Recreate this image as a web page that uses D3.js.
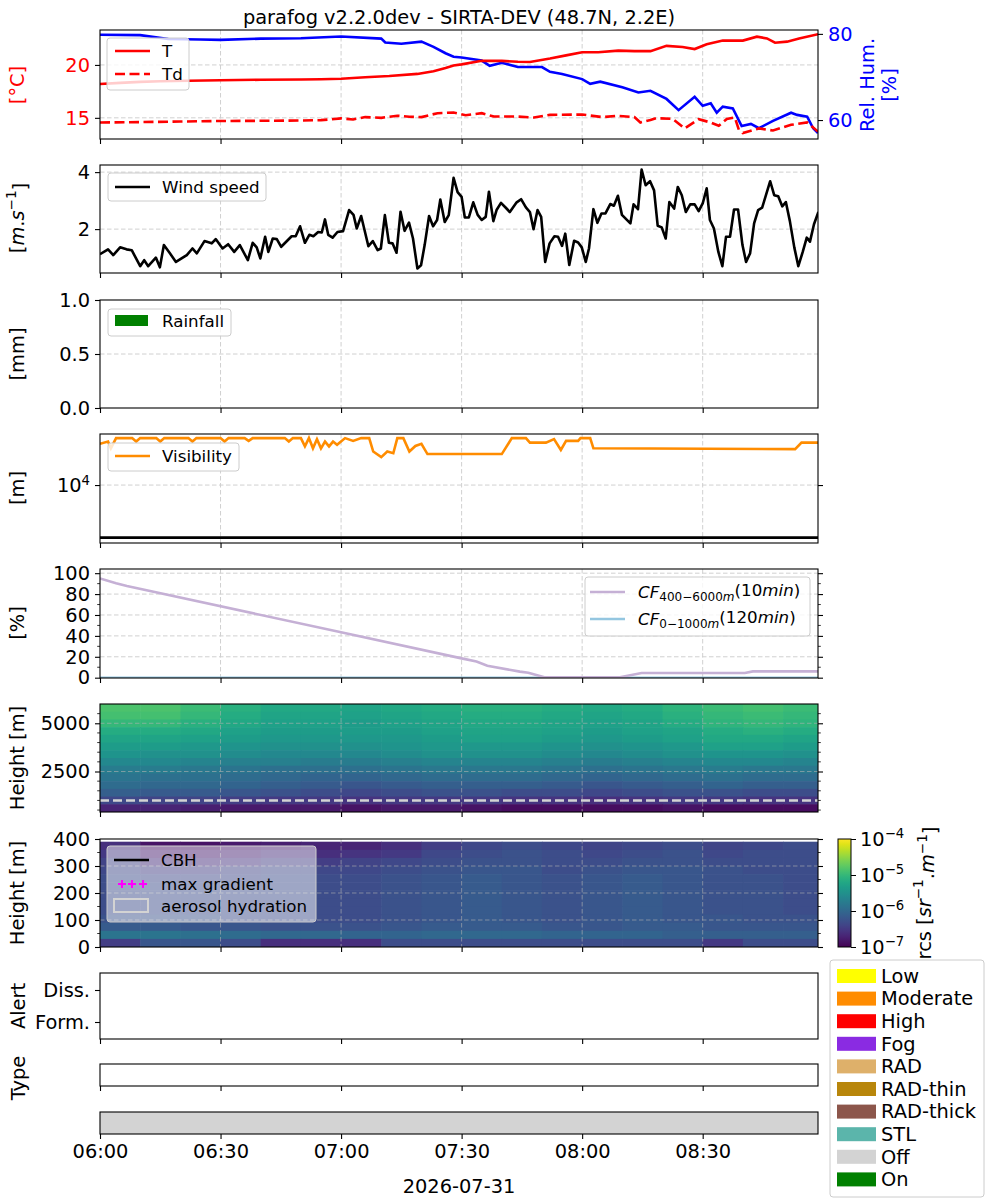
<!DOCTYPE html>
<html>
<head>
<meta charset="utf-8">
<script src="https://cdn.jsdelivr.net/npm/d3@7"></script>
<style>
  body { margin: 0; background: #fff; }
  text { font-family: "DejaVu Sans", sans-serif; }
</style>
</head>
<body>
<svg id="chart" width="1000" height="1200"></svg>
<script>
// ---- data (minutes after 06:00 UTC, value) ----
const tempT = [[0,18.2],[5,18.3],[10,18.4],[15,18.45],[22,18.5],[30,18.55],[40,18.6],[50,18.62],[55,18.65],[60,18.7],
  [66,18.84],[72,18.95],[79,19.15],[83,19.4],[86,19.7],[88,19.95],[90,20.05],[95,20.4],[100,20.38],[104,20.3],
  [107,20.28],[112,20.6],[116,20.9],[120,21.2],[124,21.2],[129,21.35],[133,21.3],[137,21.3],[141,21.8],[145,21.7],
  [148,21.5],[151,21.95],[155,22.3],[160,22.3],[163.5,22.67],[166,22.5],[168,22.1],[171,22.2],[174,22.5],[178.7,22.9]];
const tempTd = [[0,14.56],[10,14.6],[20,14.65],[30,14.7],[40,14.72],[50,14.75],[55,14.78],[60,14.95],[63,14.85],[66,15.07],
  [70,15.0],[74,15.2],[77,15.1],[80,15.07],[84,15.44],[88,15.5],[91,15.25],[95,15.44],[98,15.12],[104,15.12],
  [108,15.03],[112,15.28],[120,15.31],[125,15.07],[129,15.19],[133,15.07],[134.5,14.56],[137,14.8],[138.5,14.97],[142.5,14.9],
  [145.5,14.0],[149,14.87],[152,14.56],[154,14.25],[156,14.9],[158,15.03],[159,13.87],[160,13.56],[164,14.0],[167.5,13.8],
  [172,14.34],[176,14.56],[178.7,13.7]];
const relHum = [[0,79.8],[10,79.7],[17,78.8],[25,78.7],[30,78.6],[40,78.9],[50,79.0],[60,79.4],[70,78.9],[71,78.0],
  [75,77.7],[80,78.2],[83,77.0],[86,75.5],[88,74.7],[90,74.5],[95,73.8],[97,72.6],[100,73.3],[104,72.3],
  [110,72.3],[112,71.2],[115,70.7],[120,69.5],[122,68.4],[124.5,68.9],[130,67.6],[134,66.4],[137,66.8],[141,64.9],
  [144,62.3],[148,65.4],[150,63.3],[152,63.9],[153.5,61.7],[155,63.1],[157.5,62.7],[159.7,58.6],[162,59.1],[164,58.1],
  [167.5,59.8],[172,61.7],[173.5,61.2],[176,60.8],[177.5,58.1],[178.7,57.0]];

const windSpeed = [[0,1.12],[2,1.29],[3.3,1.09],[5,1.36],[6.6,1.29],[7.9,1.26],[10,0.70],[11,0.91],[12,0.70],[13.9,1.0],
  [14.9,0.66],[15.9,1.44],[17.4,1.15],[18.9,0.85],[21.6,1.09],[23,1.32],[24.1,1.15],[26,1.58],[27.8,1.5],[28.8,1.65],
  [30.5,1.32],[31.9,1.47],[33.4,1.2],[34.8,1.44],[36.8,0.91],[38,1.52],[39,1.36],[39.9,0.97],[41.1,1.73],[41.9,1.2],
  [43,1.67],[44,1.65],[45.1,1.38],[47.7,1.75],[48.7,1.75],[49.8,2.1],[51,1.52],[52.1,1.8],[53.1,1.75],[54.3,1.9],
  [55.2,1.88],[56,2.34],[56.8,1.8],[57.9,1.7],[59.1,1.9],[60.5,1.93],[62,2.67],[63.1,2.5],[63.9,2.02],[65,2.46],
  [66.8,1.4],[67.9,1.58],[69.1,1.26],[69.9,1.32],[70.9,2.49],[71.9,1.52],[72.8,1.5],[73.8,1.17],[74.8,2.61],[75.8,1.94],
  [76.9,2.23],[77.9,1.67],[79,0.62],[79.9,0.73],[80.8,1.44],[81.9,2.46],[82.9,2.1],[83.9,2.32],[84.7,3.04],[85.8,2.25],
  [86.8,2.49],[88,3.8],[89,3.3],[90,3.13],[90.8,2.41],[91.8,2.41],[92.9,2.94],[94,2.5],[95,2.32],[96,2.43],
  [96.8,3.31],[97.9,2.28],[98.7,2.67],[99.8,2.92],[101,2.75],[102,2.6],[103.7,2.94],[104.8,3.05],[106,2.76],[107,2.6],
  [107.9,2.0],[108.9,2.67],[109.8,2.43],[110.8,0.85],[111.9,1.5],[113.1,1.75],[114,1.73],[115,1.41],[115.8,1.84],[116.8,0.74],
  [118,1.59],[119,1.53],[119.9,1.36],[120.9,0.85],[121.7,1.32],[122.8,2.7],[123.8,2.22],[124.8,2.55],[125.8,2.55],[127,2.88],
  [127.9,2.82],[128.9,3.17],[129.9,2.5],[132,2.2],[132.8,2.87],[133.9,2.7],[134.8,4.09],[135.8,3.54],[136.9,3.68],[137.9,3.36],
  [138.8,2.12],[139.8,2.06],[140.8,1.67],[141.7,2.95],[142.9,2.72],[143.8,3.48],[144.8,3.19],[145.8,2.6],[146.9,2.87],[148,2.87],
  [149,2.63],[150,2.9],[151,3.43],[151.8,2.32],[152.8,2.02],[153.9,1.2],[154.9,0.7],[155.8,1.73],[156.8,1.73],[157.8,2.69],
  [158.8,2.69],[159.9,1.44],[160.8,0.85],[161.8,1.15],[162.8,2.2],[163.8,2.67],[164.8,2.75],[166.8,3.68],[167.8,3.19],[168.8,3.15],
  [169.8,2.8],[170.7,2.95],[171.7,2.28],[172.8,1.36],[173.8,0.7],[174.9,1.2],[175.9,1.7],[176.7,1.56],[177.7,2.17],[178.8,2.6]];

const rainfall = [[0,0],[10,0],[20,0],[30,0],[40,0],[50,0],[60,0],[70,0],[80,0],[90,0],
  [100,0],[110,0],[120,0],[130,0],[140,0],[150,0],[160,0],[170,0]];

const visibility = [[0,18400],[2,19000],[2.7,17200],[4,20000],[8,20000],[9,19000],[10,20000],[14,20000],[15,19000],[16,20000],
  [22,20000],[23,19000],[24,20000],[30,20000],[31,19000],[32,20000],[36,20000],[37,19200],[38,20000],[46,20000],
  [47,19000],[48,20000],[50,20000],[51,17700],[52,20000],[53,17200],[54,19700],[55,17200],[56,19000],[57,17700],
  [58,19000],[59,18100],[61,20000],[63,19200],[65,20000],[67,20000],[68,16400],[70,15100],[71.5,16400],[73,16000],
  [74,20000],[75.5,20000],[77,16400],[78.5,17800],[80,18400],[81.5,15800],[100,15800],[102.5,20000],[106,20000],[107,18700],
  [111,18700],[113,19700],[114.7,16800],[116,19200],[119,19200],[119.6,20000],[122,20000],[122.8,17200],[173,17000],[174.6,18700],
  [178.7,18700]];
const visThreshold = 4600;

const cfHigh = [[0,95],[4,90.4],[6.7,87.8],[60,43.4],[89.7,18.7],[93.7,15.4],[96.4,11.5],[104.5,5.8],[106.6,4.8],[110.6,0.4],
  [129.4,0.4],[134.8,4.5],[160.5,4.5],[162.5,6],[178.7,6]];
const cfLow = [[0,0],[178.7,0]];

// range corrected signal, log10 values, 10-minute columns
const rcsColMinutes = [0,10,20,30,40,50,60,70,80,90,100,110,120,130,140,150,160,170];
const rcsHighTops = [6000,5600,5200,4800,4400,4000,3600,3200,2800,2400,2000,1600,1200,800];
const rcsHigh = [
  [-4.85,-4.85,-4.95,-5.1,-5.2,-5.2,-5.25,-5.2,-5.15,-5.1,-5.1,-5.15,-5.2,-5.15,-5.05,-4.95,-4.9,-4.95],
  [-4.9,-4.9,-5.0,-5.15,-5.25,-5.25,-5.3,-5.25,-5.2,-5.15,-5.15,-5.2,-5.25,-5.2,-5.1,-5.0,-4.95,-5.0],
  [-5.0,-5.0,-5.1,-5.2,-5.3,-5.3,-5.35,-5.3,-5.25,-5.2,-5.2,-5.25,-5.3,-5.25,-5.15,-5.05,-5.0,-5.05],
  [-5.15,-5.15,-5.2,-5.3,-5.35,-5.35,-5.35,-5.35,-5.3,-5.25,-5.25,-5.3,-5.35,-5.3,-5.25,-5.15,-5.1,-5.15],
  [-5.25,-5.25,-5.3,-5.35,-5.4,-5.4,-5.4,-5.4,-5.35,-5.3,-5.3,-5.35,-5.4,-5.35,-5.3,-5.2,-5.2,-5.25],
  [-5.35,-5.35,-5.4,-5.45,-5.5,-5.5,-5.5,-5.45,-5.4,-5.4,-5.4,-5.45,-5.5,-5.45,-5.4,-5.3,-5.3,-5.35],
  [-5.45,-5.5,-5.5,-5.55,-5.6,-5.6,-5.6,-5.55,-5.5,-5.5,-5.5,-5.55,-5.6,-5.55,-5.5,-5.45,-5.45,-5.5],
  [-5.6,-5.6,-5.65,-5.7,-5.7,-5.75,-5.75,-5.7,-5.65,-5.65,-5.65,-5.7,-5.75,-5.7,-5.65,-5.6,-5.6,-5.65],
  [-5.75,-5.75,-5.8,-5.85,-5.9,-5.9,-5.9,-5.85,-5.8,-5.8,-5.8,-5.85,-5.9,-5.85,-5.8,-5.75,-5.8,-5.8],
  [-5.85,-5.9,-5.9,-5.95,-6.0,-6.05,-6.05,-6.0,-5.95,-5.95,-5.95,-6.0,-6.05,-6.0,-5.95,-5.9,-5.95,-5.95],
  [-5.95,-6.0,-6.0,-6.05,-6.1,-6.15,-6.2,-6.15,-6.1,-6.1,-6.1,-6.15,-6.2,-6.15,-6.1,-6.05,-6.1,-6.1],
  [-6.1,-6.15,-6.15,-6.2,-6.25,-6.3,-6.35,-6.3,-6.25,-6.25,-6.3,-6.3,-6.35,-6.3,-6.25,-6.25,-6.3,-6.3],
  [-6.35,-6.4,-6.4,-6.45,-6.5,-6.5,-6.55,-6.5,-6.5,-6.5,-6.55,-6.55,-6.6,-6.55,-6.5,-6.5,-6.55,-6.55],
  [-6.7,-6.7,-6.75,-6.8,-6.8,-6.8,-6.85,-6.8,-6.8,-6.85,-6.9,-6.9,-6.9,-6.9,-6.85,-6.9,-6.9,-6.9]];
const rcsLowTops = [390,360,330,300,270,240,210,180,150,120,90,60,30];
const rcsLow = [
  [-6.6,-6.85,-6.85,-6.8,-6.75,-6.7,-6.7,-6.6,-6.45,-6.35,-6.3,-6.35,-6.4,-6.35,-6.3,-6.4,-6.35,-6.3],
  [-6.5,-6.75,-6.75,-6.7,-6.6,-6.6,-6.55,-6.5,-6.35,-6.3,-6.25,-6.3,-6.35,-6.3,-6.25,-6.35,-6.3,-6.3],
  [-6.4,-6.6,-6.6,-6.55,-6.45,-6.45,-6.4,-6.35,-6.3,-6.25,-6.25,-6.3,-6.3,-6.25,-6.25,-6.3,-6.3,-6.3],
  [-6.35,-6.45,-6.45,-6.4,-6.35,-6.35,-6.35,-6.3,-6.25,-6.2,-6.2,-6.3,-6.25,-6.2,-6.2,-6.25,-6.3,-6.3],
  [-6.3,-6.35,-6.35,-6.35,-6.3,-6.3,-6.3,-6.25,-6.2,-6.15,-6.2,-6.25,-6.2,-6.15,-6.2,-6.25,-6.25,-6.3],
  [-6.3,-6.3,-6.3,-6.3,-6.3,-6.3,-6.3,-6.25,-6.2,-6.15,-6.2,-6.25,-6.2,-6.15,-6.2,-6.25,-6.25,-6.3],
  [-6.3,-6.3,-6.3,-6.3,-6.3,-6.3,-6.3,-6.25,-6.2,-6.15,-6.2,-6.25,-6.2,-6.15,-6.2,-6.25,-6.25,-6.3],
  [-6.3,-6.3,-6.3,-6.3,-6.3,-6.3,-6.3,-6.25,-6.2,-6.15,-6.2,-6.25,-6.2,-6.15,-6.2,-6.25,-6.25,-6.3],
  [-6.3,-6.3,-6.3,-6.3,-6.3,-6.3,-6.3,-6.25,-6.2,-6.15,-6.2,-6.25,-6.2,-6.15,-6.2,-6.25,-6.25,-6.3],
  [-6.25,-6.25,-6.25,-6.3,-6.3,-6.3,-6.3,-6.25,-6.2,-6.15,-6.2,-6.25,-6.2,-6.15,-6.2,-6.2,-6.25,-6.25],
  [-6.15,-6.15,-6.2,-6.2,-6.25,-6.25,-6.25,-6.2,-6.15,-6.15,-6.15,-6.2,-6.2,-6.15,-6.15,-6.2,-6.2,-6.2],
  [-5.85,-5.85,-5.9,-5.95,-6.0,-6.0,-6.05,-6.05,-6.0,-6.0,-6.0,-6.05,-6.05,-6.05,-6.1,-6.1,-6.1,-6.1],
  [-6.45,-6.2,-6.2,-6.3,-6.6,-6.6,-6.6,-6.3,-6.3,-6.3,-6.3,-6.3,-6.3,-6.3,-6.3,-6.5,-6.3,-6.3]];
const fogLayerTop = 1000;

const fogState = [{start: 0, end: 178.7, state: 'Off'}];
const typeNames = ['Low','Moderate','High','Fog','RAD','RAD-thin','RAD-thick','STL','Off','On'];
const typeColors = ['#ffff00','#ff8c00','#ff0000','#8a2be2','#deb06a','#b8860b','#8c564b','#5bb5ab','#d3d3d3','#008000'];

// ---- layout ----
const FONT = '"DejaVu Sans", sans-serif';
const FS = 19.4, LFS = 16.7;
const L = 100, R = 818;
const t0 = Date.UTC(2026, 6, 31, 6, 0);
const at = m => new Date(t0 + m * 60000);

const svg = d3.select('#chart');
svg.append('rect').attr('width', 1000).attr('height', 1200).attr('fill', 'white');

const x = d3.scaleUtc().domain([at(0), at(178.7)]).range([L, R]);
const halfHours = x.ticks(d3.utcMinute.every(30));

//frame around an axes
function frame(top, bottom) {
    svg.append('rect')
        .attr('x', L).attr('y', top)
        .attr('width', R - L).attr('height', bottom - top)
        .attr('fill', 'none').attr('stroke', 'black').attr('stroke-width', 1.1);
}

function clip(id, top, bottom) {
    svg.append('clipPath').attr('id', id)
        .append('rect').attr('x', L).attr('y', top).attr('width', R - L).attr('height', bottom - top);
    return `url(#${id})`;
}

function timeAxis(bottom, withLabels) {
    const g = svg.append('g')
        .attr('transform', `translate(0,${bottom})`)
        .call(d3.axisBottom(x).tickValues(halfHours).tickSize(5).tickPadding(5)
            .tickFormat(withLabels ? d3.utcFormat('%H:%M') : () => ''));
    g.select('.domain').remove();
    g.attr('font-size', FS).attr('font-family', FONT);
    g.selectAll('line').attr('stroke-width', 1.1);
}

function timeGrid(top, bottom, color, opacity) {
    svg.append('g').selectAll('line')
        .data(halfHours.slice(1))
        .join('line')
            .attr('x1', d => x(d)).attr('x2', d => x(d))
            .attr('y1', top).attr('y2', bottom)
            .attr('stroke', color || '#d0d0d0').attr('stroke-opacity', opacity || 1)
            .attr('stroke-dasharray', '4.5,2.5');
}

function valueGrid(scale, values, color, opacity) {
    svg.append('g').selectAll('line')
        .data(values)
        .join('line')
            .attr('x1', L).attr('x2', R)
            .attr('y1', d => scale(d)).attr('y2', d => scale(d))
            .attr('stroke', color || '#d0d0d0').attr('stroke-opacity', opacity || 1)
            .attr('stroke-dasharray', '4.5,2.5');
}

function yAxis(scale, values, fmt, side, color) {
    const ax = side === 'right' ? d3.axisRight(scale) : d3.axisLeft(scale);
    const g = svg.append('g')
        .attr('transform', `translate(${side === 'right' ? R : L},0)`)
        .call(ax.tickValues(values).tickSize(5).tickPadding(5).tickFormat(fmt || (() => '')));
    g.select('.domain').remove();
    g.attr('font-size', FS).attr('font-family', FONT);
    g.selectAll('line').attr('stroke-width', 1.1);
    if (color) g.selectAll('text').attr('fill', color);
    return g;
}

function minorTicks(scale, values) {
    const g = svg.append('g');
    values.forEach(v => {
        g.append('line').attr('x1', L - 2.8).attr('x2', L).attr('y1', scale(v)).attr('y2', scale(v))
            .attr('stroke', 'black').attr('stroke-width', 0.8);
        g.append('line').attr('x1', R).attr('x2', R + 2.8).attr('y1', scale(v)).attr('y2', scale(v))
            .attr('stroke', 'black').attr('stroke-width', 0.8);
    });
}

function powerLabels(g) {
    g.selectAll('.tick text').each(function(d) {
        const e = Math.round(Math.log10(d));
        const t = d3.select(this).text(null);
        t.append('tspan').text('10');
        t.append('tspan').attr('dy', '-0.55em').attr('font-size', '0.68em')
            .text(e < 0 ? '\u2212' + (-e) : e);
    });
}

function yLabel(cx, cy, color) {
    return svg.append('text')
        .attr('transform', `translate(${cx},${cy}) rotate(-90)`)
        .attr('text-anchor', 'middle').attr('dy', '0.35em')
        .attr('font-size', FS).attr('fill', color || 'black');
}

function legendFrame(x0, y0, w, h, alpha) {
    svg.append('rect')
        .attr('x', x0).attr('y', y0).attr('width', w).attr('height', h).attr('rx', 3)
        .attr('fill', 'white').attr('fill-opacity', alpha === undefined ? 0.8 : alpha)
        .attr('stroke', '#cccccc').attr('stroke-width', 1);
}

function legendLine(x0, y0, color, dash, label) {
    svg.append('line').attr('x1', x0).attr('x2', x0 + 35).attr('y1', y0).attr('y2', y0)
        .attr('stroke', color).attr('stroke-width', 2.6).attr('stroke-dasharray', dash || null);
    return svg.append('text').attr('x', x0 + 47).attr('y', y0).attr('dy', '0.35em')
        .attr('font-size', LFS).text(label || null);
}

const line = (xs, ys) => d3.line().x(d => xs(at(d[0]))).y(d => ys(d[1]));

// title
svg.append('text').attr('x', 459).attr('y', 24).attr('text-anchor', 'middle')
    .attr('font-size', FS).text('parafog v2.2.0dev - SIRTA-DEV (48.7N, 2.2E)');

// ---- panel 1: temperature / humidity ----
const yT = d3.scaleLinear().domain([13.0, 23.3]).range([139, 30]);
const yRH = d3.scaleLinear().domain([55.6, 80.9]).range([139, 30]);
timeGrid(30, 139);
valueGrid(yT, [15, 20]);
const c1 = clip('c1', 30, 139);
svg.append('path').datum(relHum).attr('clip-path', c1).attr('d', line(x, yRH))
    .attr('fill', 'none').attr('stroke', '#0000ff').attr('stroke-width', 2.6);
svg.append('path').datum(tempT).attr('clip-path', c1).attr('d', line(x, yT))
    .attr('fill', 'none').attr('stroke', '#ff0000').attr('stroke-width', 2.6);
svg.append('path').datum(tempTd).attr('clip-path', c1).attr('d', line(x, yT))
    .attr('fill', 'none').attr('stroke', '#ff0000').attr('stroke-width', 2.6).attr('stroke-dasharray', '10,4.5');
frame(30, 139);
yAxis(yT, [15, 20], d3.format('d'), 'left', '#ff0000');
yAxis(yRH, [60, 80], d3.format('d'), 'right', '#0000ff');
timeAxis(139, false);
yLabel(17, 85, '#ff0000').text('[°C]');
yLabel(867, 85, '#0000ff').text('Rel. Hum.');
yLabel(889, 85, '#0000ff').text('[%]');
legendFrame(107, 38, 82, 52);
legendLine(115, 51, '#ff0000', null, 'T');
legendLine(115, 74, '#ff0000', '10,4.5', 'Td');

// ---- panel 2: wind ----
const yW = d3.scaleLinear().domain([0.46, 4.25]).range([273, 165]);
timeGrid(165, 273);
valueGrid(yW, [2, 4]);
svg.append('path').datum(windSpeed).attr('clip-path', clip('c2', 165, 273)).attr('d', line(x, yW))
    .attr('fill', 'none').attr('stroke', 'black').attr('stroke-width', 2.6).attr('stroke-linejoin', 'round');
frame(165, 273);
yAxis(yW, [2, 4], d3.format('d'), 'left');
timeAxis(273, false);
const wl = yLabel(17, 218);
wl.append('tspan').text('[');
wl.append('tspan').attr('font-style', 'italic').text('m');
wl.append('tspan').text('.');
wl.append('tspan').attr('font-style', 'italic').text('s');
wl.append('tspan').attr('dy', '-0.55em').attr('font-size', '0.7em').text('\u22121');
wl.append('tspan').attr('dy', '0.55em').text(']');
legendFrame(108, 173, 158, 28);
legendLine(115, 187, 'black', null, 'Wind speed');

// ---- panel 3: rainfall ----
const yRain = d3.scaleLinear().domain([0, 1]).range([408, 300]);
timeGrid(300, 408);
valueGrid(yRain, [0.5]);
svg.append('g').attr('fill', 'green').selectAll('rect')
    .data(rainfall)
    .join('rect')
        .attr('x', d => x(at(d[0])))
        .attr('width', d => x(at(d[0] + 10)) - x(at(d[0])))
        .attr('y', d => yRain(d[1]))
        .attr('height', d => yRain(0) - yRain(d[1]));
frame(300, 408);
yAxis(yRain, [0, 0.5, 1], d3.format('.1f'), 'left');
timeAxis(408, false);
yLabel(17, 354).text('[mm]');
legendFrame(108, 309, 123, 27);
svg.append('rect').attr('x', 115).attr('y', 315).attr('width', 33).attr('height', 11).attr('fill', 'green');
svg.append('text').attr('x', 162).attr('y', 321).attr('dy', '0.35em').attr('font-size', LFS).text('Rainfall');

// ---- panel 4: visibility ----
const yVis = d3.scaleLog().domain([4250, 21250]).range([543, 434]);
timeGrid(434, 543);
valueGrid(yVis, [1e4]);
const c4 = clip('c4', 434, 543);
svg.append('line').attr('x1', L).attr('x2', R).attr('y1', yVis(visThreshold)).attr('y2', yVis(visThreshold))
    .attr('stroke', 'black').attr('stroke-width', 2.6);
svg.append('path').datum(visibility).attr('clip-path', c4).attr('d', line(x, yVis))
    .attr('fill', 'none').attr('stroke', '#ff8c00').attr('stroke-width', 2.6);
frame(434, 543);
powerLabels(yAxis(yVis, [1e4], d3.format('d'), 'left'));
yAxis(yVis, [1e4], null, 'right');
timeAxis(543, false);
yLabel(17, 488).text('[m]');
legendFrame(108, 443, 131, 28);
legendLine(115, 456, '#ff8c00', null, 'Visibility');

// ---- panel 5: cloud fraction ----
const yCF = d3.scaleLinear().domain([-0.3, 104]).range([678, 569]);
timeGrid(569, 678);
valueGrid(yCF, [20, 40, 60, 80, 100]);
const c5 = clip('c5', 569, 678);
svg.append('path').datum(cfLow).attr('clip-path', c5).attr('d', line(x, yCF))
    .attr('fill', 'none').attr('stroke', '#94c6e0').attr('stroke-width', 2.6);
svg.append('path').datum(cfHigh).attr('clip-path', c5).attr('d', line(x, yCF))
    .attr('fill', 'none').attr('stroke', '#c5b0d5').attr('stroke-width', 2.6);
frame(569, 678);
yAxis(yCF, [0, 20, 40, 60, 80, 100], d3.format('d'), 'left');
yAxis(yCF, [0, 20, 40, 60, 80, 100], null, 'right');
minorTicks(yCF, [10, 30, 50, 70, 90]);
timeAxis(678, false);
yLabel(17, 623).text('[%]');
legendFrame(585, 577, 225, 59);
function cfLabel(t, sub, window) {
    t.append('tspan').attr('font-style', 'italic').text('CF');
    t.append('tspan').attr('dy', '0.3em').attr('font-size', '0.72em').text(sub);
    t.append('tspan').attr('dy', '0').attr('font-size', '0.72em').attr('font-style', 'italic').text('m');
    t.append('tspan').attr('dy', '-0.3em').text('(' + window);
    t.append('tspan').attr('font-style', 'italic').text('min');
    t.append('tspan').text(')');
}
cfLabel(legendLine(590, 592, '#c5b0d5').attr('x', 638), '400\u22126000', '10');
cfLabel(legendLine(590, 619, '#94c6e0').attr('x', 638), '0\u22121000', '120');

// ---- panels 6 & 7: lidar heatmaps ----
const rcsColor = d3.scaleSequential(d3.interpolateViridis).domain([-7, -4]);

function drawRcs(tops, depth, matrix, ys, clipId) {
    const g = svg.append('g').attr('clip-path', clipId);
    matrix.forEach((row, i) => {
        g.append('g').selectAll('rect')
            .data(row)
            .join('rect')
                .attr('x', (v, j) => x(at(rcsColMinutes[j])))
                .attr('width', (v, j) => x(at(rcsColMinutes[j] + 10)) - x(at(rcsColMinutes[j])) + 0.6)
                .attr('y', ys(tops[i]))
                .attr('height', ys(tops[i] - depth) - ys(tops[i]) + 0.6)
                .attr('fill', v => rcsColor(v));
    });
}

const yHigh = d3.scaleLinear().domain([400, 6000]).range([812, 704]);
drawRcs(rcsHighTops, 400, rcsHigh, yHigh, clip('c6', 704, 812));
timeGrid(704, 812, '#b0b0b0', 0.6);
valueGrid(yHigh, [2500, 5000], '#b0b0b0', 0.6);
svg.append('line').attr('x1', L).attr('x2', R).attr('y1', yHigh(fogLayerTop)).attr('y2', yHigh(fogLayerTop))
    .attr('stroke', '#d3d3d3').attr('stroke-width', 2.6).attr('stroke-dasharray', '9,4');
frame(704, 812);
yAxis(yHigh, [2500, 5000], d3.format('d'), 'left');
yAxis(yHigh, [2500, 5000], null, 'right');
minorTicks(yHigh, [500, 1000, 1500, 2000, 3000, 3500, 4000, 4500, 5500]);
timeAxis(812, false);
yLabel(17, 758).text('Height [m]');

const yLow = d3.scaleLinear().domain([0, 400]).range([947, 839]);
drawRcs(rcsLowTops, 30, rcsLow, yLow, clip('c7', 839, 947));
timeGrid(839, 947, '#b0b0b0', 0.6);
valueGrid(yLow, [100, 200, 300], '#b0b0b0', 0.6);
frame(839, 947);
yAxis(yLow, [0, 100, 200, 300, 400], d3.format('d'), 'left');
yAxis(yLow, [0, 100, 200, 300, 400], null, 'right');
minorTicks(yLow, [50, 150, 250, 350]);
timeAxis(947, false);
yLabel(17, 893).text('Height [m]');
legendFrame(107, 846, 209, 76, 0.5);
legendLine(114, 860, 'black', null, 'CBH');
[122, 132, 143].forEach(px => {
    svg.append('path').attr('d', `M${px - 4},884H${px + 4}M${px},880V888`)
        .attr('stroke', '#ff00ff').attr('stroke-width', 2);
});
svg.append('text').attr('x', 161).attr('y', 884).attr('dy', '0.35em').attr('font-size', LFS).text('max gradient');
svg.append('rect').attr('x', 114).attr('y', 899).attr('width', 34).attr('height', 13)
    .attr('fill', 'none').attr('stroke', '#d3d3d3').attr('stroke-width', 2);
svg.append('text').attr('x', 161).attr('y', 906).attr('dy', '0.35em').attr('font-size', LFS).text('aerosol hydration');

// colorbar
const cbar = d3.scaleLog().domain([1e-7, 1e-4]).range([947, 839]);
const grad = svg.append('defs').append('linearGradient').attr('id', 'viridis')
    .attr('x1', 0).attr('y1', 1).attr('x2', 0).attr('y2', 0);
d3.range(0, 1.0001, 0.05).forEach(s => {
    grad.append('stop').attr('offset', s).attr('stop-color', d3.interpolateViridis(s));
});
svg.append('rect').attr('x', 838).attr('y', 839).attr('width', 13).attr('height', 108)
    .attr('fill', 'url(#viridis)').attr('stroke', 'black').attr('stroke-width', 1);
const cb = svg.append('g').attr('transform', 'translate(851,0)')
    .call(d3.axisRight(cbar).tickValues([1e-7, 1e-6, 1e-5, 1e-4]).tickSize(5).tickPadding(4));
cb.select('.domain').remove();
cb.attr('font-size', FS).attr('font-family', FONT);
powerLabels(cb);
const cl = yLabel(924, 893);
cl.append('tspan').text('rcs [');
cl.append('tspan').attr('font-style', 'italic').text('sr');
cl.append('tspan').attr('dy', '-0.55em').attr('font-size', '0.7em').text('\u22121');
cl.append('tspan').attr('dy', '0.55em').text('.');
cl.append('tspan').attr('font-style', 'italic').text('m');
cl.append('tspan').attr('dy', '-0.55em').attr('font-size', '0.7em').text('\u22121');
cl.append('tspan').attr('dy', '0.55em').text(']');

// ---- alert / type / state panels ----
const yAlert = d3.scalePoint().domain(['Form.', 'Diss.']).range([1022, 990]);
frame(973, 1039);
yAxis(yAlert, ['Form.', 'Diss.'], d => d, 'left');
timeAxis(1039, false);
yLabel(18, 1006).text('Alert');

frame(1064, 1086);
timeAxis(1086, false);
yLabel(18, 1078).text('Type');

svg.append('g').selectAll('rect')
    .data(fogState)
    .join('rect')
        .attr('x', d => x(at(d.start)))
        .attr('width', d => x(at(d.end)) - x(at(d.start)))
        .attr('y', 1112).attr('height', 22)
        .attr('fill', d => typeColors[typeNames.indexOf(d.state)]);
frame(1112, 1134);
timeAxis(1134, true);
svg.append('text').attr('x', 459).attr('y', 1193).attr('text-anchor', 'middle')
    .attr('font-size', FS).text('2026-07-31');

// type legend
legendFrame(830, 960, 154, 237);
const items = svg.append('g').selectAll('g')
    .data(typeNames)
    .join('g')
        .attr('transform', (d, i) => `translate(837,${976 + i * 22.6})`);
items.append('rect').attr('x', 0).attr('y', -7).attr('width', 39).attr('height', 14)
    .attr('fill', (d, i) => typeColors[i]);
items.append('text').attr('x', 44).attr('dy', '0.35em').attr('font-size', FS).text(d => d);
</script>
</body>
</html>
